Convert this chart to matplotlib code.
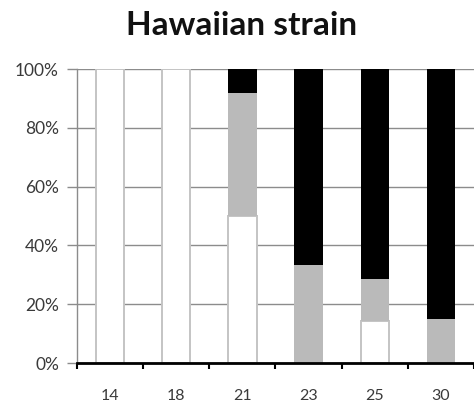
import matplotlib

matplotlib.use("Agg")
import matplotlib.pyplot as plt
import numpy as np

temperatures = ["14", "18", "21", "23", "25", "30"]
white_pct = [100, 100, 50, 0, 14.3, 0]
gray_pct = [0, 0, 41.7, 33.3, 14.3, 15]
black_pct = [0, 0, 8.3, 66.7, 71.4, 85]
y_ticks = [0, 20, 40, 60, 80, 100]

plt.rcParams["font.family"] = ["Lato", "DejaVu Sans"]

fig = plt.figure(figsize=(4.74, 4.08), dpi=100)
ax = fig.add_axes([77 / 474, 1 - 363 / 408, 1 - 77 / 474, (363 - 69) / 408])

x = np.arange(len(temperatures))
w = 0.43
ax.bar(x, white_pct, w, color="white", edgecolor="#c4c4c4", linewidth=1.4, zorder=2)
ax.bar(x, gray_pct, w, bottom=white_pct, color="#bababa", linewidth=0, zorder=2)
bottom2 = np.array(white_pct) + np.array(gray_pct)
ax.bar(x, black_pct, w, bottom=bottom2, color="black", linewidth=0, zorder=2)

ax.set_ylim(0, 100)
ax.set_xlim(-0.5, len(temperatures) - 0.5)
ax.set_yticks(y_ticks)
ax.set_yticklabels([f"{v}%" for v in y_ticks])
ax.yaxis.grid(True, color="#8c8c8c", linewidth=1.0, zorder=0)
ax.set_axisbelow(True)

# boundary ticks on x, labels at centres
ax.set_xticks(np.arange(len(temperatures) + 1) - 0.5)
ax.set_xticklabels([])
ax.set_xticks(x, minor=True)
ax.set_xticklabels(temperatures, minor=True)
ax.tick_params(axis="x", which="major", direction="out", length=4, width=1.5, color="black")
ax.tick_params(axis="x", which="minor", length=0, pad=19, labelsize=11.5, labelcolor="#3a3a3a")
ax.tick_params(axis="y", direction="out", length=7, width=1.0, color="#8c8c8c",
               labelsize=12.5, labelcolor="#3a3a3a", pad=6)

for side in ("top", "right"):
    ax.spines[side].set_visible(False)
ax.spines["left"].set_color("#8c8c8c")
ax.spines["left"].set_linewidth(1.0)
ax.spines["bottom"].set_color("black")
ax.spines["bottom"].set_linewidth(2.0)
ax.spines["bottom"].set_zorder(3)

fig.text(242 / 474, 1 - 35 / 408, "Hawaiian strain", ha="center", va="baseline",
         fontsize=24, fontweight="bold", color="#111111")

fig.savefig("out.png", dpi=100)
